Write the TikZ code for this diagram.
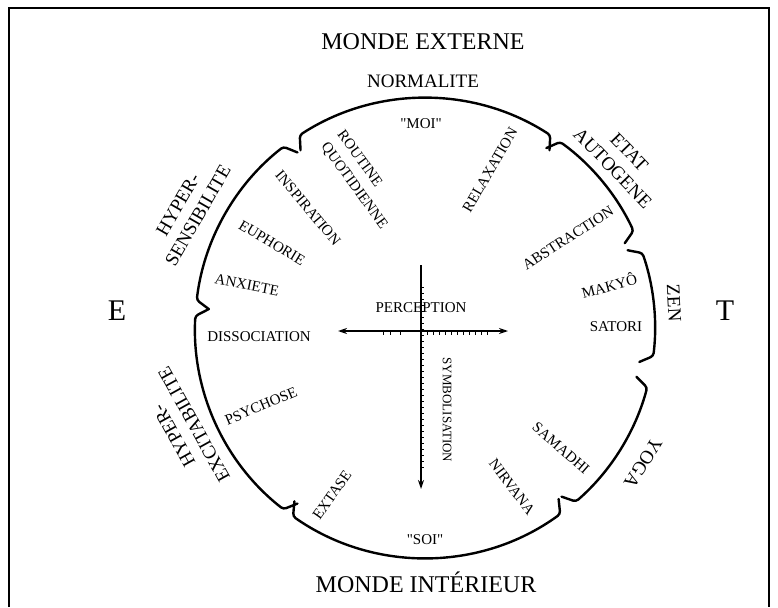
\documentclass[tikz,border=0pt]{standalone}
\usepackage{fontspec}
\setmainfont{Liberation Serif}
\usetikzlibrary{arrows.meta}
\newcommand\ringseg[2]{\draw[seg] ({#1-2}:217) -- (#1:230) arc[start angle=#1, end angle=#2, radius=230] -- ({#2+2}:217);}
\begin{document}
\begin{tikzpicture}[x=1pt,y=1pt,
  seg/.style={line width=2.4pt, rounded corners=3pt, line cap=round},
  inlab/.style={inner sep=0pt, font=\fontsize{15}{20}\selectfont},
  outlab/.style={inner sep=0pt, align=center, font=\fontsize{19}{23}\selectfont},
  titlelab/.style={inner sep=0pt, anchor=base, font=\fontsize{24}{28}\selectfont},
  polelab/.style={inner sep=0pt, anchor=base, font=\fontsize{30}{32}\selectfont},
  axisline/.style={line width=1.4pt},
  tickline/.style={line width=0.7pt}]
\useasboundingbox (0,0) rectangle (778,-607);
\fill[white] (0,0) rectangle (778,-607);
\draw[line width=2pt] (9,-607) -- (9,-8) -- (769,-8) -- (769,-607);

% titles and poles
\node[titlelab] (mext) at (423,-50) {MONDE EXTERNE};
\node[titlelab] (mint) at (426,-592) {MONDE INTÉRIEUR};
\node[polelab] (E) at (117,-320) {E};
\node[polelab] (T) at (725,-320) {T};
\node[inner sep=0pt, anchor=base, font=\fontsize{19}{23}\selectfont] (norm) at (423,-88) {NORMALITE};

% ring segments
\begin{scope}[shift={(425,-328)}]
\ringseg{57}{123}
\ringseg{128}{173}
\ringseg{177}{232}
\ringseg{235}{306}
\ringseg{311}{345}
\ringseg{353}{379}
\ringseg{25}{54}
\end{scope}

% outer labels
\node[outlab, rotate=60] (hs) at (188,-210) {HYPER-\\SENSIBILITE};
\node[outlab, rotate=119] (he) at (184,-430) {HYPER-\\EXCITABILITE};
\node[outlab, rotate=-46] (ea) at (621,-160) {ETAT\\AUTOGENE};
\node[outlab, rotate=-87] (zen) at (674,-303) {ZEN};
\node[outlab, rotate=-122] (yoga) at (643,-463) {YOGA};

% inner labels
\node[inlab] (moi) at (421,-124) {\textquotedbl MOI\textquotedbl};
\node[inlab] (soi) at (425,-540) {\textquotedbl SOI\textquotedbl};
\node[inlab, rotate=-54, align=left] (rq) at (362,-180) {ROUTINE\\QUOTIDIENNE};
\node[inlab, rotate=60] (rel) at (490,-170) {RELAXATION};
\node[inlab, rotate=-50] (insp) at (308,-208) {INSPIRATION};
\node[inlab, rotate=-31] (eup) at (272,-243) {EUPHORIE};
\node[inlab, rotate=-11] (anx) at (247,-285) {ANXIETE};
\node[inlab] (dis) at (259,-337) {DISSOCIATION};
\node[inlab, rotate=23] (psy) at (261,-406) {PSYCHOSE};
\node[inlab, rotate=55] (ext) at (332,-495) {EXTASE};
\node[inlab, rotate=-53] (nir) at (512,-487) {NIRVANA};
\node[inlab, rotate=-41] (sam) at (561,-448) {SAMADHI};
\node[inlab] (sat) at (616,-327) {SATORI};
\node[inlab, rotate=15] (mak) at (609,-285) {MAKYÔ};
\node[inlab, rotate=33] (abs) at (568,-238) {ABSTRACTION};
\node[inlab] (per) at (421,-308) {PERCEPTION};
\node[inlab, rotate=-90, font=\fontsize{13}{15}\selectfont] (sym) at (447,-410) {SYMBOLISATION};

% cross
\coordinate (hl) at (338,-331);
\coordinate (hr) at (508,-331);
\coordinate (vt) at (421,-265);
\coordinate (vb) at (421,-489);
\draw[axisline, {Stealth[length=9pt,width=6pt]}-{Stealth[length=9pt,width=6pt]}] (hl) -- (hr);
\draw[axisline, -{Stealth[length=9pt,width=6pt]}] (vt) -- (vb);
\foreach \x in {383,390,400,427,433,439,445,451,457,463,469,475,481,487}
  \draw[tickline] (\x,-331) -- (\x,-334.5);
\foreach \y in {287,293,...,470}
  \draw[tickline] (421,-\y) -- (424,-\y);
\end{tikzpicture}
\end{document}
